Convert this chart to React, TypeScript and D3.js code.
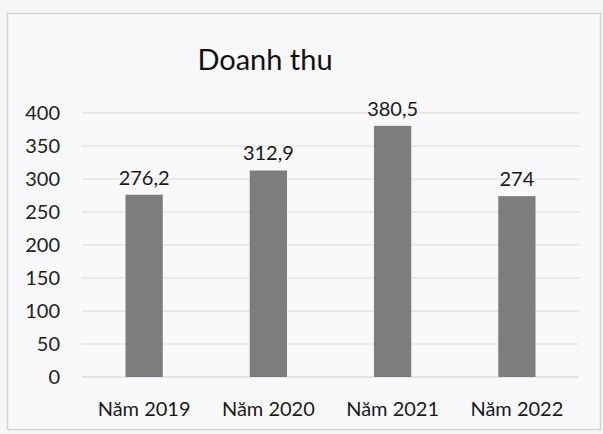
import React from 'react';
import * as d3 from 'd3';

const years = ['Năm 2019', 'Năm 2020', 'Năm 2021', 'Năm 2022'];
const revenue = [276.2, 312.9, 380.5, 274];
const valueLabels = ['276,2', '312,9', '380,5', '274'];
const yTicks = [0, 50, 100, 150, 200, 250, 300, 350, 400];

const W = 603;
const H = 434;
const plot = { left: 82, right: 579, top: 113, bottom: 377 };
const font = 'Lato, "Open Sans", sans-serif';

export default function App() {
  const x = d3.scaleBand<string>()
    .domain(years)
    .range([plot.left, plot.right])
    .paddingInner(0.7)
    .paddingOuter(0.35);
  const y = d3.scaleLinear().domain([0, 400]).range([plot.bottom, plot.top]);

  return (
    <svg
      width={W}
      height={H}
      style={{ position: 'absolute', left: 0, top: 0, background: '#f6f6f8' }}
      fontFamily={font}
    >
      {/* chart frame */}
      <rect x={7.5} y={13.5} width={593} height={416} fill="#f9f9fb" stroke="#d4d4d6" strokeWidth={1.5} />

      <text x={265} y={70} textAnchor="middle" fontSize={29} fill="#111">Doanh thu</text>

      {/* gridlines + y labels */}
      {yTicks.map(t => (
        <g key={t}>
          <line x1={plot.left} x2={plot.right} y1={y(t)} y2={y(t)} stroke={t === 0 ? '#cfcfcf' : '#dcdcdc'} strokeWidth={1.2} />
          <text x={60} y={y(t)} dy="0.36em" textAnchor="end" fontSize={20} fill="#222">{t}</text>
        </g>
      ))}

      {/* bars */}
      {years.map((yr, i) => (
        <g key={yr}>
          <rect
            x={x(yr)!}
            y={y(revenue[i])}
            width={x.bandwidth()}
            height={y(0) - y(revenue[i])}
            fill="#7d7d7d"
          />
          <text
            x={x(yr)! + x.bandwidth() / 2}
            y={y(revenue[i]) - 10}
            textAnchor="middle"
            fontSize={20}
            fill="#1a1a1a"
          >
            {valueLabels[i]}
          </text>
          <text
            x={x(yr)! + x.bandwidth() / 2}
            y={416}
            textAnchor="middle"
            fontSize={20}
            fill="#1a1a1a"
          >
            {yr}
          </text>
        </g>
      ))}
    </svg>
  );
}
